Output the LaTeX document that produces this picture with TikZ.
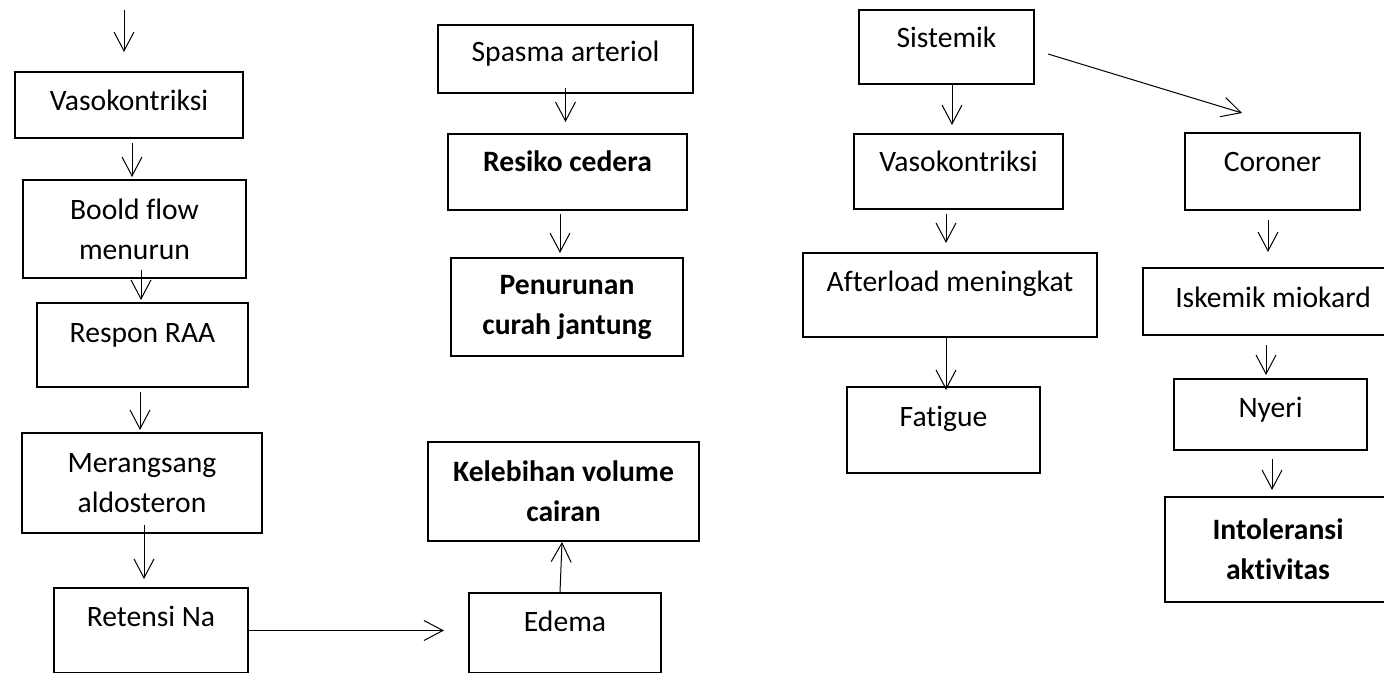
\documentclass[tikz,border=0pt]{standalone}
\usepackage{fontspec}
\setmainfont{Carlito}[Ligatures=NoCommon]
\usetikzlibrary{arrows.meta}

\begin{document}
\begin{tikzpicture}[
  x=0.5pt, y=-0.5pt,
  kotak/.style={draw, line width=1pt, inner sep=0pt, anchor=north west,
                font=\fontsize{14.8}{20}\selectfont},
  tebal/.style={kotak, font=\fontsize{14.8}{20}\selectfont\bfseries},
  panah/.style={->, line width=0.5pt},
  >={Straight Barb[length=9.5pt,width=10pt]},
]
\useasboundingbox (0,0) rectangle (1384,673);
\clip (0,0) rectangle (1384,673);
% kolom kiri
\node[kotak, minimum width=114pt, text height=19.5pt, text depth=13.5pt] (vaso1) at (14,71) {Vasokontriksi};
\node[kotak, align=center, minimum width=111.5pt, minimum height=49pt] (boold) at (22,179) {Boold flow\\menurun};
\node[kotak, minimum width=105.5pt, text height=19.5pt, text depth=22.5pt] (respon) at (36,302) {Respon RAA};
\node[kotak, align=center, minimum width=120pt, minimum height=50pt] (merang) at (21,432) {Merangsang\\aldosteron};
\node[kotak, minimum width=97pt, text height=19pt, text depth=23.5pt] (retensi) at (53,587) {Retensi Na};
% kolom tengah
\node[kotak, minimum width=127.5pt, text height=18.5pt, text depth=15.5pt] (spasma) at (437,24) {Spasma arteriol};
\node[tebal, minimum width=119.5pt, text height=19pt, text depth=19pt] (resiko) at (447,133) {Resiko cedera};
\node[tebal, align=center, minimum width=116pt, minimum height=49pt] (turun) at (450,257) {Penurunan\\curah jantung};
\node[tebal, align=center, minimum width=135.5pt, minimum height=49.5pt] (lebih) at (427,441) {Kelebihan volume\\cairan};
\node[kotak, minimum width=96pt, text height=19pt, text depth=21pt] (edema) at (468,592) {Edema};
% kolom kanan
\node[kotak, minimum width=87.5pt, text height=19pt, text depth=18pt] (sistemik) at (858,9) {Sistemik};
\node[kotak, minimum width=104.5pt, text height=19pt, text depth=18.5pt] (vaso2) at (853,133) {Vasokontriksi};
\node[kotak, minimum width=147pt, text height=19.5pt, text depth=22.5pt] (after) at (802,252) {Afterload meningkat};
\node[kotak, minimum width=96.5pt, text height=19.5pt, text depth=23.5pt] (fatigue) at (846,386) {Fatigue};
\node[kotak, minimum width=87.5pt, text height=19.5pt, text depth=19pt] (coroner) at (1184,132) {Coroner};
\node[kotak, minimum width=130pt, text height=19.5pt, text depth=14pt] (iskemik) at (1142,267) {Iskemik miokard};
\node[kotak, minimum width=96.5pt, text height=19pt, text depth=16.5pt] (nyeri) at (1173,378) {Nyeri};
\node[tebal, align=center, minimum width=113pt, minimum height=52.5pt] (intol) at (1164,496) {Intoleransi\\aktivitas};
% panah
\coordinate (awal) at (124,10);
\coordinate (masuk) at (124,52);
\draw[panah] (awal) -- (masuk);
\draw[panah] ([xshift=1.5pt,yshift=-2pt]vaso1.south) -- ([xshift=1.5pt,yshift=1pt]vaso1.south |- boold.north);
\draw[panah] ([xshift=3.25pt,yshift=4.5pt]boold.south) -- ([xshift=3.25pt,yshift=1pt]boold.south |- respon.north);
\draw[panah] ([xshift=-1.25pt,yshift=-2pt]respon.south) -- ([xshift=-1.25pt,yshift=1pt]respon.south |- merang.north);
\draw[panah] ([xshift=1pt,yshift=4.5pt]merang.south) -- ([xshift=1pt,yshift=4pt]merang.south |- retensi.north);
\draw[panah] (retensi.east) -- ([xshift=-12pt]retensi.east -| edema.west);
\draw[panah] ([xshift=-2.5pt]edema.north) -- ([xshift=-0.75pt]lebih.south);
\draw[panah] ([yshift=3pt]spasma.south) -- ([yshift=5.5pt]spasma.south |- resiko.north);
\draw[panah] ([xshift=-3.75pt,yshift=-1.5pt]resiko.south) -- ([xshift=-3.75pt,yshift=2pt]resiko.south |- turun.north);
\draw[panah] ([xshift=2.75pt]sistemik.south) -- ([xshift=2.75pt,yshift=4pt]sistemik.south |- vaso2.north);
\draw[panah] ([xshift=6.5pt,yshift=-3.5pt]sistemik.east) -- ([xshift=-15.25pt,yshift=9.5pt]coroner.north);
\draw[panah] ([xshift=-6.25pt,yshift=-2pt]vaso2.south) -- ([xshift=-6.25pt,yshift=4.5pt]vaso2.south |- after.north);
\draw[panah] ([xshift=-2pt]after.south) -- ([xshift=-2pt,yshift=-2pt]after.south |- fatigue.north);
\draw[panah] ([xshift=-2.25pt,yshift=-4.5pt]coroner.south) -- ([xshift=-2.25pt,yshift=7.5pt]coroner.south |- iskemik.north);
\draw[panah] ([xshift=-3.5pt,yshift=-4.5pt]iskemik.south) -- ([xshift=-3.5pt,yshift=1.5pt]iskemik.south |- nyeri.north);
\draw[panah] ([xshift=0.75pt,yshift=-4pt]nyeri.south) -- ([xshift=0.75pt,yshift=3pt]nyeri.south |- intol.north);
\end{tikzpicture}
\end{document}
